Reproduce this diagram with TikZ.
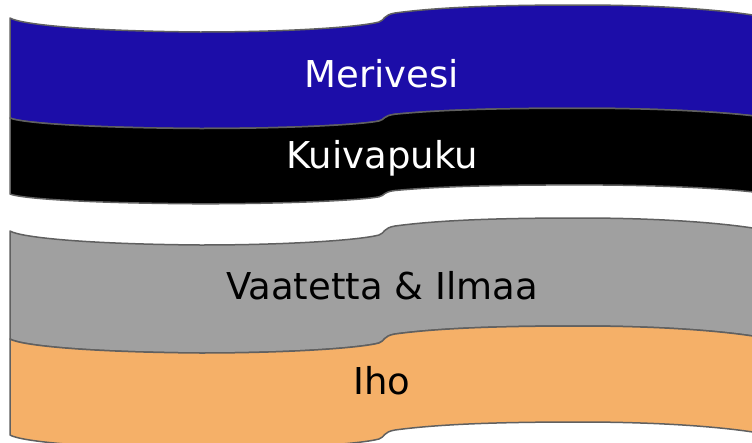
\documentclass[tikz,border=0pt]{standalone}
\usepackage{fontspec}
\setmainfont{DejaVu Sans}
\definecolor{seablue}{RGB}{28,13,168}
\definecolor{clothgray}{RGB}{160,160,160}
\definecolor{skinorange}{RGB}{245,176,104}
\definecolor{edgegray}{RGB}{96,96,96}
\tikzset{
  % top edge of a layer, left to right: #1 = y at the left side, #2 = amplitude
  wave fwd/.style 2 args={insert path={
    (10,{#1}) .. controls (20,{#1+6*#2}) and (80,{#1+13*#2}) .. (200,{#1+14*#2})
    .. controls (290,{#1+14*#2}) and (360,{#1+9*#2}) .. (379,{#1+4*#2})
    .. controls (385,{#1+2*#2}) and (383,{#1-3*#2}) .. (395,{#1-5*#2})
    .. controls (440,{#1-11*#2}) and (500,{#1-13*#2}) .. (580,{#1-13*#2})
    .. controls (660,{#1-13*#2}) and (730,{#1-8*#2}) .. (770,{#1})}},
  % the same edge, right to left
  wave back/.style 2 args={insert path={
    -- (770,{#1}) .. controls (730,{#1-8*#2}) and (660,{#1-13*#2}) .. (580,{#1-13*#2})
    .. controls (500,{#1-13*#2}) and (440,{#1-11*#2}) .. (395,{#1-5*#2})
    .. controls (383,{#1-3*#2}) and (385,{#1+2*#2}) .. (379,{#1+4*#2})
    .. controls (360,{#1+9*#2}) and (290,{#1+14*#2}) .. (200,{#1+14*#2})
    .. controls (80,{#1+13*#2}) and (20,{#1+6*#2}) .. (10,{#1})}},
  layer/.style={draw=edgegray,line width=1.5pt,line join=round},
  label/.style={font=\fontsize{37}{44}\selectfont,anchor=base}
}
\begin{document}
\begin{tikzpicture}[x=1pt,y=-1pt]
\useasboundingbox (0,0) rectangle (752,442);
%---------------- outer layers
\path[layer,fill=seablue] [wave fwd={18}{1}] [wave back={118}{0.75}] -- cycle;
\path[layer,fill=black] [wave fwd={118}{0.75}] [wave back={194}{0.7}] -- cycle;
\node[label,white] (merivesi) at (382,87) {Merivesi};
\node[label,white] (kuivapuku) at (382,168) {Kuivapuku};
%---------------- inner layers
\path[layer,fill=clothgray] [wave fwd={231}{1}] [wave back={339}{1}] -- cycle;
\path[layer,fill=skinorange] [wave fwd={339}{1}] [wave back={435}{1}] -- cycle;
\node[label] (vaatetta) at (382,299) {Vaatetta \& Ilmaa};
\node[label] (iho) at (382,394) {Iho};
\end{tikzpicture}
\end{document}
